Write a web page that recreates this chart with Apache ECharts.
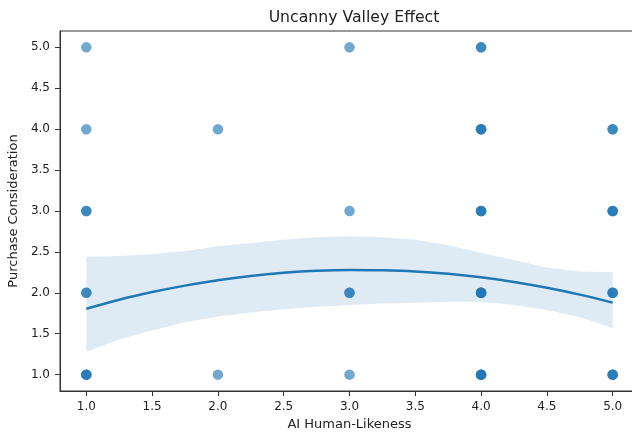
<!DOCTYPE html>
<html>
<head>
<meta charset="utf-8">
<script src="https://cdn.jsdelivr.net/npm/echarts@6/dist/echarts.min.js"></script>
<style>html,body{margin:0;padding:0;background:#fff;}#c{width:632px;height:434px;}</style>
</head>
<body>
<div id="c"></div>
<script>
// Observed responses (x, y, number of overlapping observations)
const pointX     = [1, 1, 1, 1, 1, 2, 2, 3, 3, 3, 3, 4, 4, 4, 4, 4, 5, 5, 5, 5];
const pointY     = [5, 4, 3, 2, 1, 4, 1, 5, 3, 2, 1, 5, 4, 3, 2, 1, 4, 3, 2, 1];
const pointCount = [1, 1, 2, 2, 3, 1, 1, 1, 1, 2, 1, 2, 3, 3, 4, 4, 2, 3, 3, 3];

// Fitted quadratic trend and confidence band
const fitX     = [1, 1.25, 1.5, 1.75, 2, 2.25, 2.5, 2.75, 3, 3.25, 3.5, 3.75, 4, 4.25, 4.5, 4.75, 5];
const fitY     = [1.805, 1.916, 2.009, 2.088, 2.154, 2.206, 2.244, 2.269, 2.280, 2.277, 2.262, 2.232, 2.189, 2.132, 2.061, 1.978, 1.880];
const bandUp   = [2.44, 2.45, 2.47, 2.51, 2.57, 2.61, 2.65, 2.68, 2.69, 2.68, 2.65, 2.58, 2.49, 2.40, 2.31, 2.26, 2.25];
const bandLow  = [1.28, 1.43, 1.54, 1.64, 1.71, 1.76, 1.80, 1.83, 1.85, 1.87, 1.88, 1.89, 1.89, 1.85, 1.79, 1.70, 1.57];

const xTicks = [1.0, 1.5, 2.0, 2.5, 3.0, 3.5, 4.0, 4.5, 5.0];
const yTicks = [1.0, 1.5, 2.0, 2.5, 3.0, 3.5, 4.0, 4.5, 5.0];

const titleText = 'Uncanny Valley Effect';
const xName = 'AI Human-Likeness';
const yName = 'Purchase Consideration';

const scatterData = [];
pointX.forEach((x, i) => { for (let k = 0; k < pointCount[i]; k++) scatterData.push([x, pointY[i]]); });
const bandData = fitX.map((x, i) => [x, bandLow[i], bandUp[i]]);
const lineData = fitX.map((x, i) => [x, fitY[i]]);

const FONT = 'DejaVu Sans';
const TXT = '#222';
const chart = echarts.init(document.getElementById('c'), null, {renderer: 'canvas'});
chart.setOption({
  animation: false,
  backgroundColor: '#fff',
  textStyle: {fontFamily: FONT},
  title: {
    text: titleText, left: 349, top: 5, textAlign: 'center',
    textStyle: {fontFamily: FONT, fontSize: 15.7, fontWeight: 'normal', color: TXT}
  },
  grid: {left: 60, top: 31, width: 579, height: 360, show: true, borderColor: '#333', borderWidth: 1,
         containLabel: false, outerBoundsMode: 'none'},
  xAxis: {
    type: 'value', min: 0.8, max: 5.2,
    name: xName, nameLocation: 'middle', nameGap: 26,
    nameTextStyle: {fontFamily: FONT, fontSize: 13, color: TXT},
    axisLine: {show: true, lineStyle: {color: '#333', width: 1}},
    axisTick: {show: true, inside: false, length: 5, lineStyle: {color: '#333'}, customValues: xTicks},
    axisLabel: {fontFamily: FONT, fontSize: 12, color: TXT, margin: 10, customValues: xTicks, formatter: v => v.toFixed(1)},
    splitLine: {show: false}
  },
  yAxis: {
    type: 'value', min: 0.8, max: 5.2,
    name: yName, nameLocation: 'middle', nameGap: 36, nameRotate: 90,
    nameTextStyle: {fontFamily: FONT, fontSize: 13, color: TXT},
    axisLine: {show: true, lineStyle: {color: '#333', width: 1}},
    axisTick: {show: true, inside: false, length: 5, lineStyle: {color: '#333'}, customValues: yTicks},
    axisLabel: {fontFamily: FONT, fontSize: 12, color: TXT, margin: 10, customValues: yTicks, formatter: v => v.toFixed(1)},
    splitLine: {show: false}
  },
  series: [
    {
      type: 'scatter', data: scatterData, symbolSize: 10.5, z: 2,
      itemStyle: {color: 'rgba(31,119,180,0.8)'}
    },
    {
      type: 'custom', z: 3, silent: true, data: bandData,
      renderItem: function (params, api) {
        if (params.dataIndex !== 0) return null;
        const upper = bandData.map(d => api.coord([d[0], d[2]]));
        const lower = bandData.map(d => api.coord([d[0], d[1]])).reverse();
        return {
          type: 'polygon',
          shape: {points: upper.concat(lower), smooth: 0},
          style: {fill: 'rgba(31,119,180,0.15)', stroke: null}
        };
      },
      encode: {x: 0, y: [1, 2]}
    },
    {
      type: 'line', data: lineData, symbol: 'none', smooth: 0.3, z: 4,
      lineStyle: {color: '#1f77b4', width: 2.5}
    }
  ]
});
</script>
</body>
</html>
